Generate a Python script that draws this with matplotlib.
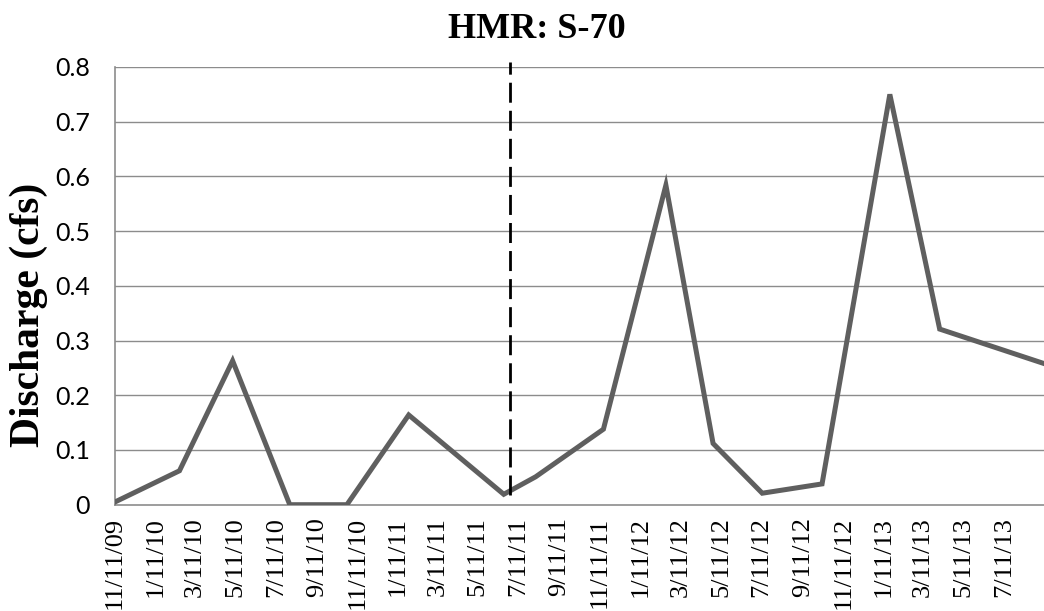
import matplotlib
matplotlib.use('Agg')
import matplotlib.pyplot as plt
import matplotlib.dates as mdates
import numpy as np

# sampling dates and discharge (cfs)
dates = ['2009-11-11', '2010-02-16', '2010-05-07', '2010-08-01', '2010-10-26',
         '2011-01-27', '2011-06-19', '2011-08-06', '2011-11-16', '2012-02-18',
         '2012-04-29', '2012-07-12', '2012-10-10', '2013-01-20', '2013-04-05',
         '2013-09-09']
discharge = [0.005, 0.062, 0.263, 0.0, 0.0, 0.164, 0.019, 0.051, 0.138, 0.584,
             0.112, 0.021, 0.038, 0.750, 0.321, 0.258]
marker_date = '2011-06-29'
x_start, x_end = '2009-11-11', '2013-09-09'
y_ticks = [0, 0.1, 0.2, 0.3, 0.4, 0.5, 0.6, 0.7, 0.8]
title = 'HMR: S-70'
y_label = 'Discharge (cfs)'

x = np.array(dates, dtype='datetime64[D]')
fig = plt.figure(figsize=(10.44, 6.11), dpi=100)
ax = fig.add_axes([115 / 1044, 1 - 504.7 / 611, 1 - 115 / 1044, (504.7 - 67) / 611])

for y in y_ticks[1:]:
    ax.axhline(y, color='#8c8c8c', lw=1.0, zorder=1)
ax.plot(x, discharge, color='#5f5f5f', lw=3.6, solid_joinstyle='miter', zorder=3)
ax.plot([np.datetime64(marker_date), np.datetime64(marker_date)], [0.018, 0.81],
        color='black', lw=2.0, dashes=(7.2, 2.9), clip_on=False, zorder=4)

ax.set_xlim(np.datetime64(x_start), np.datetime64(x_end))
ax.set_ylim(0, 0.8)
ax.set_yticks(y_ticks)
ax.set_yticklabels(['0'] + [f'{v:.1f}' for v in y_ticks[1:]], family='Lato', fontsize=18)
ax.xaxis.set_major_locator(mdates.MonthLocator(bymonth=[1, 3, 5, 7, 9, 11], bymonthday=11))
ax.xaxis.set_major_formatter(mdates.DateFormatter('%-m/%d/%y'))
ax.tick_params(axis='x', length=0, pad=9, labelsize=19, labelrotation=90, labelfontfamily='Liberation Serif')
ax.tick_params(axis='y', length=0, pad=18)

for s in ['top', 'right']:
    ax.spines[s].set_visible(False)
for s in ['left', 'bottom']:
    ax.spines[s].set_color('#8c8c8c'); ax.spines[s].set_linewidth(1.2)

fig.text(0.514, 1 - 38 / 611, title, ha='center', va='baseline', family='Liberation Serif', fontweight='bold', fontsize=26)
fig.text(29 / 1044, 1 - 315 / 611, y_label, ha='center', va='center', rotation=90, family='Liberation Serif', fontweight='bold', fontsize=30)

fig.savefig('out.png', dpi=100)
